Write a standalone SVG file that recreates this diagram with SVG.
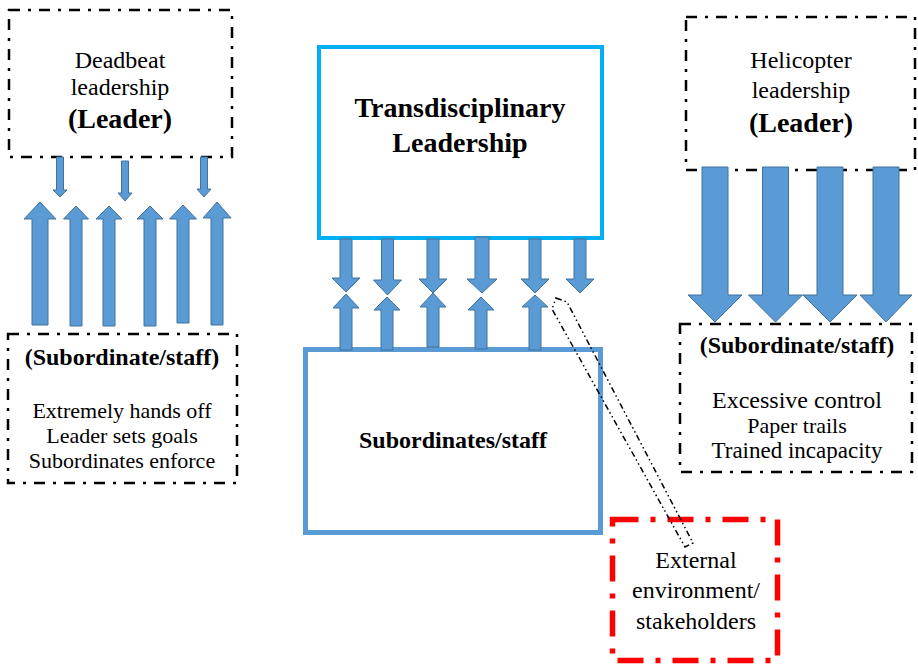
<svg xmlns="http://www.w3.org/2000/svg" width="918" height="666" viewBox="0 0 918 666">
<style>
text{font-family:"Liberation Serif",Tinos,"Times New Roman","DejaVu Serif",serif;fill:#000;text-anchor:middle}
.b{font-weight:bold}
.dd{fill:#fff;stroke:#000;stroke-width:2.5;stroke-dasharray:11 8 3 8}
.arr{fill:#5B9BD5;stroke:#41719C;stroke-width:1}
</style>
<rect width="918" height="666" fill="#fff"/>
<g id="deadbeat" font-family="Liberation Serif, serif">
<rect class="dd" x="9" y="10" width="223" height="147"/>
<text x="120" y="68" font-size="24">Deadbeat</text>
<text x="120" y="95" font-size="24">leadership</text>
<text class="b" x="120" y="128" font-size="28">(Leader)</text>
</g>
<g id="deadbeat-staff">
<rect class="dd" x="8" y="334" width="229" height="149"/>
<text class="b" x="122" y="365" font-size="24">(Subordinate/staff)</text>
<text x="122" y="418" font-size="22">Extremely hands off</text>
<text x="122" y="443" font-size="22">Leader sets goals</text>
<text x="122" y="468" font-size="22">Subordinates enforce</text>
</g>
<g id="transdisciplinary">
<rect x="319" y="47" width="283" height="191" fill="#fff" stroke="#00B0F0" stroke-width="4"/>
<text class="b" x="460" y="117" font-size="28">Transdisciplinary</text>
<text class="b" x="460" y="152" font-size="28">Leadership</text>
</g>
<g id="subordinates">
<rect x="305.5" y="349.5" width="295" height="183" fill="#fff" stroke="#5B9BD5" stroke-width="5"/>
<text class="b" x="453" y="448" font-size="24">Subordinates/staff</text>
</g>
<g id="helicopter">
<rect class="dd" x="686" y="17" width="229" height="153"/>
<text x="801" y="68" font-size="24">Helicopter</text>
<text x="801" y="98" font-size="24">leadership</text>
<text class="b" x="801" y="132" font-size="28">(Leader)</text>
</g>
<g id="helicopter-staff">
<rect class="dd" x="680" y="324" width="232" height="148"/>
<text class="b" x="797" y="353" font-size="24">(Subordinate/staff)</text>
<text x="797" y="408" font-size="24">Excessive control</text>
<text x="797" y="433" font-size="22">Paper trails</text>
<text x="797" y="458" font-size="23">Trained incapacity</text>
</g>
<g id="external">
<rect x="612.5" y="519.5" width="165" height="141" fill="#fff" stroke="#FF0000" stroke-width="5.5" stroke-dasharray="26 12 5 12"/>
<text x="696" y="568" font-size="24">External</text>
<text x="696" y="598" font-size="24">environment/</text>
<text x="696" y="629" font-size="24">stakeholders</text>
</g>
<g id="connectors">
<polygon class="arr" points="56.5,157 63.5,157 63.5,190 67,190 60,197 53,190 56.5,190"/>
<polygon class="arr" points="121.5,161 128.5,161 128.5,193 132,193 125,201 118,193 121.5,193"/>
<polygon class="arr" points="200.5,157 207.5,157 207.5,189 211,189 204,197 197,189 200.5,189"/>
<polygon class="arr" points="40,202 56,219 48,219 48,325 32,325 32,219 24,219"/>
<polygon class="arr" points="76,206 88.5,219 82,219 82,326 70,326 70,219 63.5,219"/>
<polygon class="arr" points="109,206 122,219 115,219 115,326 103,326 103,219 96,219"/>
<polygon class="arr" points="150,206 163,219 156,219 156,326 144,326 144,219 137,219"/>
<polygon class="arr" points="183,205 196.5,219 189,219 189,323 177,323 177,219 169.5,219"/>
<polygon class="arr" points="217,202 231,218 223,218 223,325 211,325 211,218 203,218"/>
<polygon class="arr" points="340,239 352,239 352,278 360,278 346,292 332,278 340,278"/>
<polygon class="arr" points="381.5,239 393.5,239 393.5,280 401.5,280 387.5,295 373.5,280 381.5,280"/>
<polygon class="arr" points="427,239 439,239 439,279 447,279 433,293 419,279 427,279"/>
<polygon class="arr" points="475,237 489,237 489,279 497,279 482,293 467,279 475,279"/>
<polygon class="arr" points="529,239 541,239 541,279 549,279 535,293 521,279 529,279"/>
<polygon class="arr" points="574,239 586,239 586,279 594,279 580,293 566,279 574,279"/>
<polygon class="arr" points="346,294 359,308 352,308 352,350 340,350 340,308 333,308"/>
<polygon class="arr" points="387,297 400,310 393,310 393,350 381,350 381,310 374,310"/>
<polygon class="arr" points="433,293 446,307 439,307 439,347 427,347 427,307 420,307"/>
<polygon class="arr" points="481,297 494,310 487,310 487,349 475,349 475,310 468,310"/>
<polygon class="arr" points="535,295 548,307 541,307 541,350 529,350 529,307 522,307"/>
<polygon class="arr" points="702,167 728,167 728,295 742,295 715,322 688,295 702,295"/>
<polygon class="arr" points="762.5,167 788.5,167 788.5,295 802.5,295 775.5,322 748.5,295 762.5,295"/>
<polygon class="arr" points="817,167 843,167 843,295 857,295 830,322 803,295 817,295"/>
<polygon class="arr" points="873,167 899,167 899,295 912,295 886,322 860,295 873,295"/>
<polygon points="556,298 567,302 693,543 685,547 552,309" fill="none" stroke="#000" stroke-width="1.5" stroke-dasharray="6 3 1.5 3 1.5 3"/>
</g>
</svg>
